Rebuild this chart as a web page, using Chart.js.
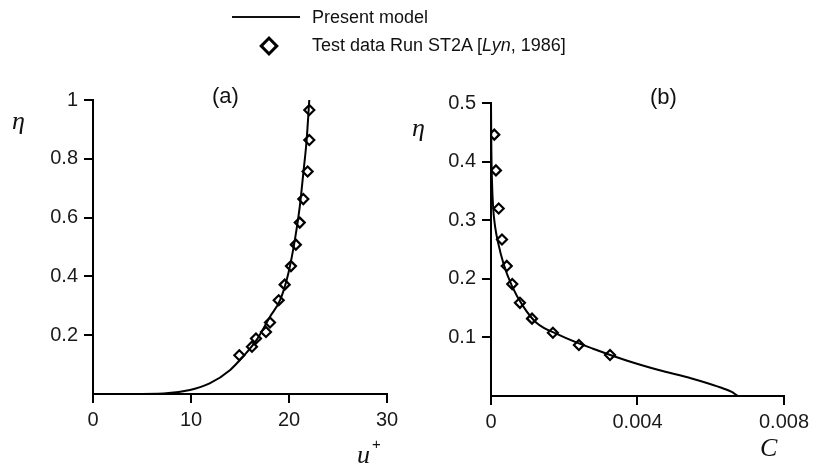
<!DOCTYPE html>
<html>
<head>
<meta charset="utf-8">
<script src="https://cdn.jsdelivr.net/npm/chart.js@4.4.1/dist/chart.umd.min.js"></script>
<style>
	body { margin: 0; background: #fff; }
	#wrap { position: relative; width: 814px; height: 468px; overflow: hidden; font-family: "Liberation Sans", Arial, sans-serif; color: #111; }
	canvas { position: absolute; top: 0; }
	.txt { position: absolute; white-space: nowrap; line-height: 1; }
	.sans { font-family: "Liberation Sans", Arial, sans-serif; }
	.serif { font-family: "Liberation Serif", "Times New Roman", serif; font-style: italic; }
	.legline { position: absolute; left: 232px; top: 16px; width: 68px; height: 2px; background: #111; }
	.legdiamond { position: absolute; left: 262px; top: 39px; width: 8px; height: 8px; border: 3px solid #000; transform: rotate(45deg); }
</style>
</head>
<body>
<div id="wrap">
	<canvas id="chartA" width="410" height="468" style="left:0"></canvas>
	<canvas id="chartB" width="404" height="468" style="left:410px"></canvas>

	<div class="legline"></div>
	<div class="txt sans" style="left:312px; top:8px; font-size:18px;">Present model</div>
	<div class="legdiamond"></div>
	<div class="txt sans" style="left:312px; top:36px; font-size:18px;">Test data Run ST2A [<i>Lyn</i>, 1986]</div>

	<div class="txt sans" style="left:212px; top:85px; font-size:22px;">(a)</div>
	<div class="txt sans" style="left:650px; top:86px; font-size:22px;">(b)</div>
	<div class="txt serif" style="left:12px; top:108px; font-size:26px;">&eta;</div>
	<div class="txt serif" style="left:412px; top:115px; font-size:26px;">&eta;</div>
	<div class="txt serif" style="left:357px; top:442px; font-size:26px;">u</div>
	<div class="txt sans" style="left:372px; top:436px; font-size:15px;">+</div>
	<div class="txt serif" style="left:760px; top:435px; font-size:26px;">C</div>
</div>
<script>
// panel (a): velocity profile u+ vs eta
var modelA_u   = [3, 7.2, 9.9, 11.9, 14.0, 15.3, 16.7, 18.06, 19.1, 19.93, 20.6, 21.1, 21.46, 21.8, 22.07]
var modelA_eta = [0, 0.002, 0.0136, 0.036, 0.082, 0.127, 0.184, 0.263, 0.32, 0.41, 0.524, 0.637, 0.751, 0.864, 1.0]
var testA_u    = [22.07, 22.07, 21.9, 21.46, 21.1, 20.7, 20.2, 19.56, 18.95, 18.06, 17.65, 16.63, 16.22, 14.93]
var testA_eta  = [0.966, 0.864, 0.757, 0.663, 0.583, 0.508, 0.435, 0.372, 0.319, 0.243, 0.211, 0.189, 0.161, 0.132]

// panel (b): concentration profile C vs eta
var modelB_c   = [0, 0.00001, 0.00003, 0.00006, 0.00011, 0.0002, 0.00034, 0.00057, 0.00088, 0.00124, 0.00187, 0.00277, 0.00368, 0.00458, 0.00548, 0.0062, 0.00656, 0.00674]
var modelB_eta = [0.5, 0.42, 0.36, 0.32, 0.29, 0.26, 0.226, 0.188, 0.153, 0.125, 0.104, 0.081, 0.061, 0.0443, 0.030, 0.016, 0.0073, 0]
var testB_c    = [0.00009, 0.000135, 0.00021, 0.0003, 0.00043, 0.00058, 0.00079, 0.00112, 0.00169, 0.0024, 0.00325]
var testB_eta  = [0.446, 0.385, 0.32, 0.267, 0.222, 0.191, 0.159, 0.132, 0.108, 0.087, 0.070]

var ticksA_x = [0, 10, 20, 30]
var ticksA_y = [0.2, 0.4, 0.6, 0.8, 1]
var ticksB_x = [0, 0.004, 0.008]
var ticksB_y = [0.1, 0.2, 0.3, 0.4, 0.5]

function pairs(xs, ys) {
	var out = []
	for (var i = 0; i < xs.length; i++) {
		out.push({x: xs[i], y: ys[i]})
	}
	return out
}

function axis(min, max, tickValues, fixedSize, horizontal, fmt) {
	return {
		type: "linear",
		min: min,
		max: max,
		afterBuildTicks: function(scale) {
			scale.ticks = tickValues.map(function(v) { return {value: v} })
		},
		afterFit: function(scale) {
			if (horizontal) scale.height = fixedSize
			else scale.width = fixedSize
		},
		ticks: {
			color: "#1a1a1a",
			padding: horizontal ? 5 : 6,
			font: {family: "'Liberation Sans', Arial, sans-serif", size: 20},
			callback: fmt
		},
		grid: {drawOnChartArea: false, drawTicks: true, tickLength: 9, color: "#000", lineWidth: 2},
		border: {display: true, color: "#000", width: 2}
	}
}

function makeChart(id, model, test, xScale, yScale, pad) {
	var ctx = document.getElementById(id).getContext("2d")
	return new Chart(ctx, {
		type: "scatter",
		data: {
			datasets: [{
				label: "Test data",
				data: test,
				pointStyle: "rectRot",
				pointRadius: 5,
				borderWidth: 2.2,
				borderColor: "#000",
				backgroundColor: "rgba(0,0,0,0)",
				showLine: false
			}, {
				label: "Present model",
				data: model,
				showLine: true,
				pointRadius: 0,
				borderColor: "#000",
				borderWidth: 2,
				cubicInterpolationMode: "monotone"
			}]
		},
		options: {
			responsive: false,
			animation: false,
			layout: {padding: pad},
			plugins: {legend: {display: false}, tooltip: {enabled: false}},
			scales: {x: xScale, y: yScale}
		}
	})
}

var plain = function(v) { return String(+v.toFixed(3)) }

makeChart("chartA", pairs(modelA_u, modelA_eta), pairs(testA_u, testA_eta),
	axis(0, 30, ticksA_x, 74, true, plain),
	axis(0, 1, ticksA_y, 93, false, plain),
	{left: 0, right: 23, top: 100, bottom: 0})

makeChart("chartB", pairs(modelB_c, modelB_eta), pairs(testB_c, testB_eta),
	axis(0, 0.008, ticksB_x, 72, true, plain),
	axis(0, 0.5, ticksB_y, 81, false, plain),
	{left: 0, right: 28, top: 103, bottom: 0})
</script>
</body>
</html>
